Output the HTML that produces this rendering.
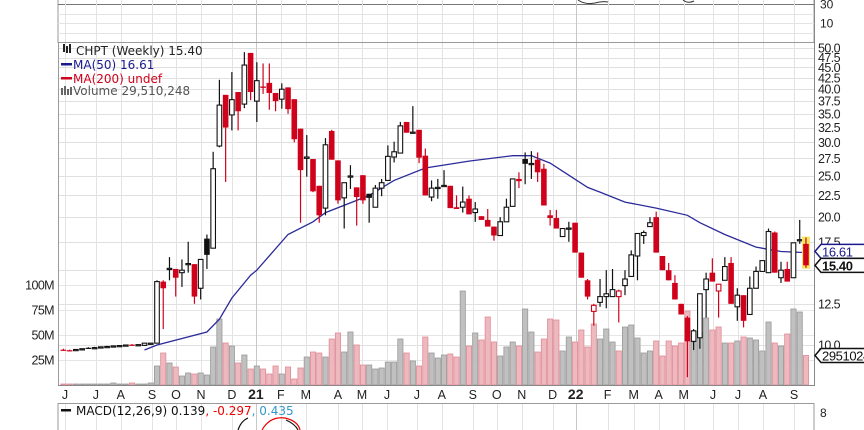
<!DOCTYPE html>
<html><head><meta charset="utf-8"><style>
html,body{margin:0;padding:0;background:#fff;}
svg{display:block;font-family:"Liberation Sans",Arial,sans-serif;}
.dv{font-family:"DejaVu Sans","Liberation Sans",sans-serif;}
</style></head><body>
<svg id="chart" width="864" height="430" viewBox="0 0 864 430" xmlns="http://www.w3.org/2000/svg">
<rect x="0" y="0" width="864" height="430" fill="#fff"/>
<g id="grid"></g>
<g id="vol"></g>
<g id="ma"></g>
<g id="candles"></g>
<g id="axes"></g>
<g font-size="12" class="dv">
  <g>
    <rect x="63" y="44" width="2" height="8" fill="#222"/><rect x="66" y="46" width="2" height="7" fill="#222"/><rect x="69" y="44" width="2" height="9" fill="#222"/>
    <text x="76" y="55" fill="#222">CHPT (Weekly) 15.40</text>
  </g>
  <g>
    <rect x="61" y="63" width="11" height="2.5" fill="#1a1a8c"/>
    <text x="73" y="69" fill="#1a1a8c">MA(50) 16.61</text>
  </g>
  <g>
    <rect x="61" y="77" width="11" height="2.5" fill="#d0021b"/>
    <text x="73" y="83" fill="#d0021b">MA(200) undef</text>
  </g>
  <g>
    <rect x="61" y="88" width="2" height="7" fill="#666"/><rect x="64" y="86" width="2" height="9" fill="#666"/><rect x="67" y="89" width="2" height="6" fill="#666"/><rect x="70" y="87" width="2" height="8" fill="#666"/>
    <text x="73" y="95" fill="#555">Volume 29,510,248</text>
  </g>
</g>
<g font-size="12" class="dv">
  <rect x="61" y="409" width="10" height="2.5" fill="#111"/>
  <text x="76" y="415" fill="#111">MACD(12,26,9) 0.139<tspan fill="#e00">, -0.297</tspan><tspan fill="#3399cc">, 0.435</tspan></text>
</g>
<g fill="none" stroke-width="1.2">
  <path d="M238,430 Q241,421 248,418" stroke="#111"/>
  <path d="M262,430 Q270,416 285,418 Q298,421 300,430" stroke="#e00"/>
  <path d="M286,420 Q295,424 298,430" stroke="#111"/>
</g>
<g fill="none" stroke-width="1">
  <path d="M578,0 Q585,5 595,3 Q602,1 608,2" stroke="#333"/>
  <path d="M683,0 Q688,4 694,1" stroke="#333"/>
</g>
</svg>
<script>
const opens=[9.75,9.72,9.72,9.74,9.85,9.84,9.86,9.9,9.92,9.95,9.97,10.02,9.98,9.98,10.08,10.1,14.1,15.1,15.1,14.8,15.5,15.5,13.6,17.8,16.9,29.4,38.8,34.8,39.4,36.9,48.7,37.5,40.6,41.4,39.2,37.9,40.4,37.9,32.3,27.5,27.4,23.7,21.0,31.9,27.2,22.2,24.9,23.5,25.1,22.7,21.1,23.4,24.4,27.7,28.3,33.5,31.6,32.1,27.9,22.3,23.4,23.7,23.7,21.1,21.1,22.1,20.5,20.1,19.7,19.0,18.1,19.5,21.2,24.6,27.4,26.7,27.3,26.0,20.2,19.9,18.0,18.8,19.4,16.5,14.2,12.0,12.6,13.0,13.0,13.0,13.8,14.5,16.2,18.1,19.0,20.0,16.2,15.0,14.0,12.5,11.6,10.2,10.4,13.5,14.8,13.4,14.2,15.6,12.3,13.1,11.8,13.6,14.9,14.8,18.4,14.4,15.1,14.4,17.6,17.3];
const highs=[9.8,9.75,9.78,9.82,9.88,9.9,9.92,9.95,9.98,10.0,10.02,10.05,10.04,10.1,10.12,14.2,14.2,16.1,15.1,15.9,17.5,15.5,15.9,18.2,28.5,42.1,38.8,43.9,39.4,48.9,48.7,46.3,46.0,46.0,39.2,41.3,40.4,37.9,32.3,31.2,27.4,23.7,30.7,32.1,27.2,24.1,26.5,23.5,25.1,22.7,23.8,24.6,29.5,30.1,33.5,33.5,36.5,32.1,29.0,24.4,24.6,25.8,23.7,22.5,23.6,22.5,21.7,20.1,20.9,19.0,20.0,22.1,24.6,25.5,28.4,28.6,28.4,26.7,20.8,20.8,18.8,19.5,19.4,16.5,14.3,12.5,14.3,15.0,15.1,13.5,15.0,16.7,18.3,18.6,20.0,20.6,16.2,15.6,14.6,12.5,11.7,10.9,13.2,14.8,16.0,13.9,16.1,16.1,13.6,13.1,14.5,15.3,15.8,18.8,18.5,15.7,15.7,17.4,19.7,17.9];
const lows=[9.7,9.68,9.7,9.72,9.8,9.8,9.82,9.85,9.9,9.9,9.93,9.95,9.95,9.95,10.05,10.1,10.9,14.2,13.0,13.7,14.8,12.5,12.8,15.1,16.9,29.2,24.2,32.0,32.0,36.1,37.7,33.5,39.0,35.8,35.5,36.0,35.0,30.0,19.4,24.9,22.9,19.4,20.2,27.3,21.5,18.8,23.3,19.1,21.5,19.4,21.1,22.4,24.4,26.9,28.3,31.6,31.6,26.8,22.5,21.8,22.1,23.6,21.0,20.9,20.5,20.3,19.5,19.7,19.0,17.6,18.1,19.5,21.2,23.4,23.9,24.6,24.2,21.3,19.1,18.8,18.0,17.5,16.5,14.4,12.8,11.1,12.3,12.2,13.0,11.3,13.1,14.5,14.2,17.3,19.0,16.5,15.0,14.2,12.8,11.8,8.4,9.73,9.8,11.6,14.1,11.6,14.2,12.5,11.4,11.0,11.8,13.6,14.9,14.8,14.8,14.0,14.1,14.4,17.3,15.2];
const closes=[9.72,9.7,9.76,9.8,9.82,9.86,9.9,9.92,9.95,9.97,10.0,9.96,10.02,10.1,10.1,14.1,13.6,15.15,14.4,15.0,15.55,13.0,15.9,16.3,26.0,36.7,32.5,37.8,35.5,45.6,39.4,41.9,40.3,39.2,37.5,40.0,35.9,30.5,25.8,27.7,23.0,20.2,29.6,27.3,21.9,24.1,25.0,22.3,21.9,22.2,23.4,24.1,27.8,28.5,32.8,31.6,31.7,27.6,22.5,23.4,23.5,23.75,21.0,20.9,21.7,20.3,20.9,19.7,19.0,18.1,19.5,21.1,24.6,24.3,26.7,26.75,25.5,21.3,19.9,18.8,18.8,18.85,16.5,14.4,13.0,12.4,13.0,13.2,13.5,13.4,14.3,16.3,18.3,18.4,19.4,16.5,15.0,14.2,12.8,11.8,10.2,10.8,13.2,14.3,14.1,13.9,15.3,12.5,13.1,11.4,13.6,14.9,15.8,18.5,14.8,15.0,14.1,17.4,17.7,15.40];
const volumes=[1,1,1,1,1,1,1,1,2,1,1,2,1,1,2,19,32,22,18,9,12,11,12,10,38,66,42,39,22,30,16,19,16,11,19,11,18,6,17,28,33,32,28,46,52,33,53,40,20,20,16,17,23,23,46,32,24,19,48,32,27,30,31,28,94,39,52,45,68,43,29,38,43,39,76,53,33,46,66,65,34,48,43,55,38,61,46,56,43,34,58,60,47,32,34,44,29,44,39,42,74,43,53,67,55,58,42,42,44,48,47,45,34,63,42,39,51,76,73,29.5];
const maWeeks=[13,15,23,25,27,30,31,36,40,42,47,49,53,58,65,72,75,78,81,84,86,90,95,100,102,106,111,115,119];
const maValues=[9.73,10.0,10.73,11.5,12.9,14.6,15.0,18.2,19.5,20.5,21.9,22.5,24.4,26.1,27.1,27.9,27.9,26.8,25.1,23.5,22.9,21.7,21.0,20.2,19.4,18.2,17.0,16.6,16.5];
const priceTicks=[50,47.5,45,42.5,40,37.5,35,32.5,30,27.5,25,22.5,20,17.5,15,12.5,10];
const priceTickLabels=["50.0","47.5","45.0","42.5","40.0","37.5","35.0","32.5","30.0","27.5","25.0","22.5","20.0","17.5","","12.5","10.0"];
const volTicks=[100,75,50,25];
const volTickLabels=["100M","75M","50M","25M"];
const monthLabels=["J","J","A","S","O","N","D","21","F","M","A","M","J","J","A","S","O","N","D","22","F","M","A","M","J","J","A","S"];
const monthWeeks=[0.25,5.2,9.2,14.2,18.05,22.05,27,30.85,34.85,38.85,44,47.85,51.85,56.65,60.65,65.6,69.45,73.45,78.4,82.1,87.2,91.4,95.4,99.4,104.1,108.1,112.1,117.1];
const lastPrice=15.40, lastMA=16.61, lastVol=29.51;

const NS="http://www.w3.org/2000/svg";
const L=58,R=814,TOP=42,BOT=385;
function xAt(i){return 63.4+i*6.24;}
function yP(p){return 345-184.5*Math.log(p/10);}
function yV(v){return 385-v*1.0;}
function mk(tag,attrs,parent){const e=document.createElementNS(NS,tag);for(const k in attrs)e.setAttribute(k,attrs[k]);parent.appendChild(e);return e;}

const grid=document.getElementById('grid');
mk('rect',{x:L,y:-1,width:R-L,height:43.5,fill:'none',stroke:'#9a9a9a'},grid);
[14,23,33].forEach(y=>mk('line',{x1:L,x2:R,y1:y+.5,y2:y+.5,stroke:'#e3e3e3'},grid));
mk('line',{x1:L,x2:R,y1:4.5,y2:4.5,stroke:'#777'},grid);
priceTicks.forEach(p=>{const y=Math.round(yP(p))+.5;mk('line',{x1:L,x2:R,y1:y,y2:y,stroke:'#e0e0e0'},grid);});
volTicks.forEach(v=>{const y=Math.round(yV(v))+.5;mk('line',{x1:L,x2:R,y1:y,y2:y,stroke:'#e6e6e6'},grid);});
mk('rect',{x:L,y:403.5,width:R-L,height:30,fill:'none',stroke:'#9a9a9a'},grid);
monthWeeks.forEach((w,k)=>{
  const x=Math.round(xAt(w))+.5;
  const yr=monthLabels[k].length>1;
  [[0,42],[42,385],[404,430]].forEach(s=>mk('line',{x1:x,x2:x,y1:s[0],y2:s[1],stroke:yr?'#c8c8c8':'#e3e3e3'},grid));
});

const vg=document.getElementById('vol');
volumes.forEach((v,i)=>{
  const up=i===0?closes[i]>=opens[i]:closes[i]>=closes[i-1];
  const y=yV(v);
  const r=mk('rect',{x:xAt(i)-2.6,y:y,width:5.2,height:BOT-y,fill:up?'#c0c0c0':'#edb9bf',stroke:up?'#999':'#e08a95','stroke-width':0.8},vg);
  
  
});

const mg=document.getElementById('ma');
const pts=maWeeks.map((w,k)=>xAt(w).toFixed(1)+','+yP(maValues[k]).toFixed(1)).join(' ');
const pl=mk('polyline',{points:pts,fill:'none',stroke:'#2b2b9a','stroke-width':1.3},mg);



const cg=document.getElementById('candles');
closes.forEach((c,i)=>{
  const o=opens[i],h=highs[i],l=lows[i];
  const prev=i===0?o:closes[i-1];
  const down=c<prev;
  const hollow=c>=o;
  const col=down?'#d0021b':'#111';
  const x=xAt(i);
  const g=mk('g',{},cg);
  
  
  if(i===closes.length-1){mk('rect',{x:x-4,y:yP(h)-1,width:8,height:yP(l)-yP(h)+2,fill:'#f5e663'},g);}
  mk('line',{x1:x,x2:x,y1:yP(h),y2:yP(l),stroke:col,'stroke-width':1.2},g);
  const top=yP(Math.max(o,c)),bot=yP(Math.min(o,c));
  const hgt=Math.max(1.2,bot-top);
  if(hollow) mk('rect',{x:x-2.3,y:top,width:4.6,height:hgt,fill:'#fff',stroke:col,'stroke-width':1.1},g);
  else mk('rect',{x:x-2.8,y:top,width:5.6,height:hgt,fill:col},g);
});

const ax=document.getElementById('axes');
mk('line',{x1:L+.5,x2:L+.5,y1:42,y2:385,stroke:'#9a9a9a'},ax);
mk('line',{x1:R+.5,x2:R+.5,y1:0,y2:386,stroke:'#888'},ax);
mk('line',{x1:L,x2:R,y1:42.5,y2:42.5,stroke:'#9a9a9a'},ax);
mk('line',{x1:L,x2:R,y1:385.5,y2:385.5,stroke:'#888'},ax);
priceTicks.forEach((p,k)=>{
  if(!priceTickLabels[k])return;
  const t=mk('text',{x:818,y:yP(p)+4.5,'font-size':12.5,fill:'#222','letter-spacing':'-0.6'},ax);
  t.textContent=priceTickLabels[k];
  
  
});
[['30',8.5],['10',27.5]].forEach(a=>{const t=mk('text',{x:820,y:a[1],'font-size':12,fill:'#222'},ax);t.textContent=a[0];});
const t8=mk('text',{x:820,y:417,'font-size':12,fill:'#222'},ax);t8.textContent='8';
volTicks.forEach((v,k)=>{
  const t=mk('text',{x:54,y:yV(v)+4.5,'font-size':12.5,fill:'#222','text-anchor':'end','letter-spacing':'-0.6'},ax);
  t.textContent=volTickLabels[k];
  
  
});
monthLabels.forEach((m,k)=>{
  const yr=m.length>1;
  const t=mk('text',{x:xAt(monthWeeks[k]),y:399,'font-size':yr?14:12.5,'font-weight':yr?'bold':'normal',fill:'#222','text-anchor':'middle'},ax);
  t.textContent=m;
  
  
});
function tag(yc,txt,col,bold,name){
  const g=mk('g',{},ax);
  
  
  mk('path',{d:`M815,${yc} L821,${yc-7} L866,${yc-7} L866,${yc+7} L821,${yc+7} Z`,fill:'#fff',stroke:col,'stroke-width':1.5},g);
  const t=mk('text',{x:822,y:yc+5,'font-size':13,fill:col,'font-weight':bold?'bold':'normal','letter-spacing':'-0.4'},g);
  t.textContent=txt;
}
tag(yP(lastMA),lastMA.toFixed(2),'#1a1a8c',false,'ma50-value-tag');
tag(yP(lastPrice),lastPrice.toFixed(2),'#111',true,'last-price-tag');
tag(yV(lastVol),'2951024','#111',false,'volume-value-tag');
</script>
</body></html>
